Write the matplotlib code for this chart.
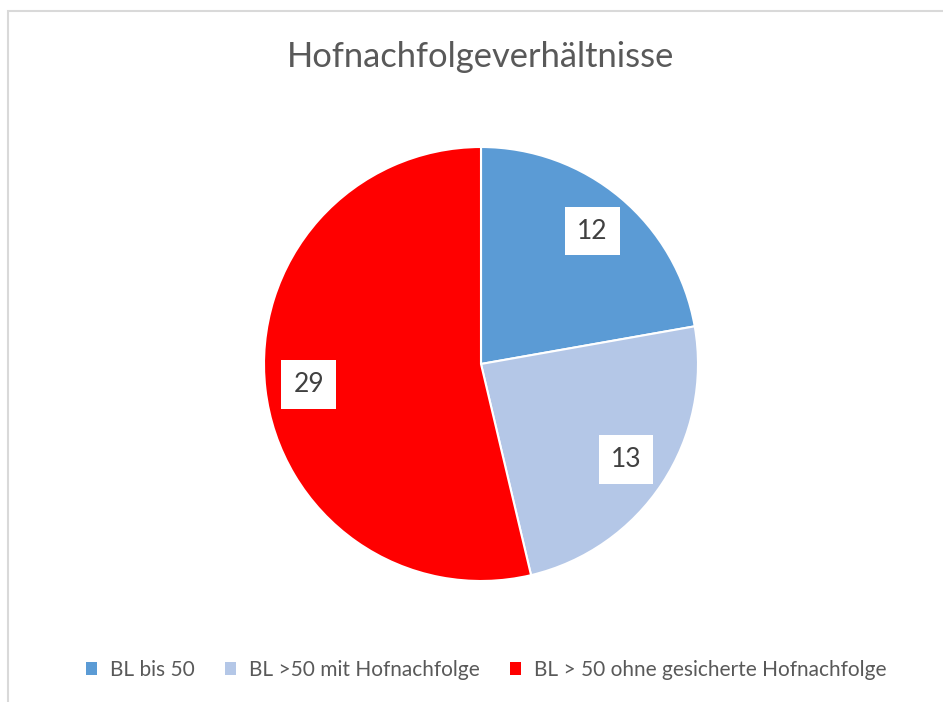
import matplotlib
matplotlib.use("Agg")
import matplotlib.pyplot as plt
from matplotlib.patches import Rectangle

title = "Hofnachfolgeverhältnisse"
categories = ["BL bis 50", "BL >50 mit Hofnachfolge", "BL > 50 ohne gesicherte Hofnachfolge"]
values = [12, 13, 29]
colors = ["#5B9BD5", "#B4C7E7", "#FF0000"]

plt.rcParams["font.family"] = ["Lato", "DejaVu Sans"]

W, H = 943, 702
fig = plt.figure(figsize=(W / 100, H / 100), dpi=100)

# chart border (only top/left visible in the crop)
fig.patches.append(Rectangle((8 / W, -0.1), 1.2, (H - 11) / H + 0.1, transform=fig.transFigure,
                             fill=False, edgecolor="#D9D9D9", linewidth=1.5))

cx, cy, r = 481, 364, 217
ax = fig.add_axes([(cx - r) / W, (H - cy - r) / H, 2 * r / W, 2 * r / H])
wedges, texts = ax.pie(values, colors=colors, startangle=90, counterclock=False,
                       radius=1, labels=[str(v) for v in values], labeldistance=0.8,
                       wedgeprops=dict(edgecolor="white", linewidth=1.5))
for t in texts:
    t.set_ha("center")
    t.set_va("center")
    t.set_fontsize(19)
    t.set_color("#404040")
    t.set_bbox(dict(facecolor="white", edgecolor="none", boxstyle="square,pad=0.45"))
ax.set_xlim(-1, 1)
ax.set_ylim(-1, 1)
ax.set_aspect("equal")
ax.axis("off")

fig.text(481 / W, 1 - 57 / H, title, ha="center", va="center", fontsize=24.8, color="#595959")

leg = fig.legend(wedges, categories, loc="center", bbox_to_anchor=(486 / W, 1 - 670 / H),
                 ncol=3, frameon=False, fontsize=15, labelcolor="#595959",
                 handlelength=0.55, handleheight=0.55, handletextpad=0.6, columnspacing=1.45)
for h in leg.legend_handles:
    h.set_edgecolor("none")

fig.savefig("out.png", dpi=100)
